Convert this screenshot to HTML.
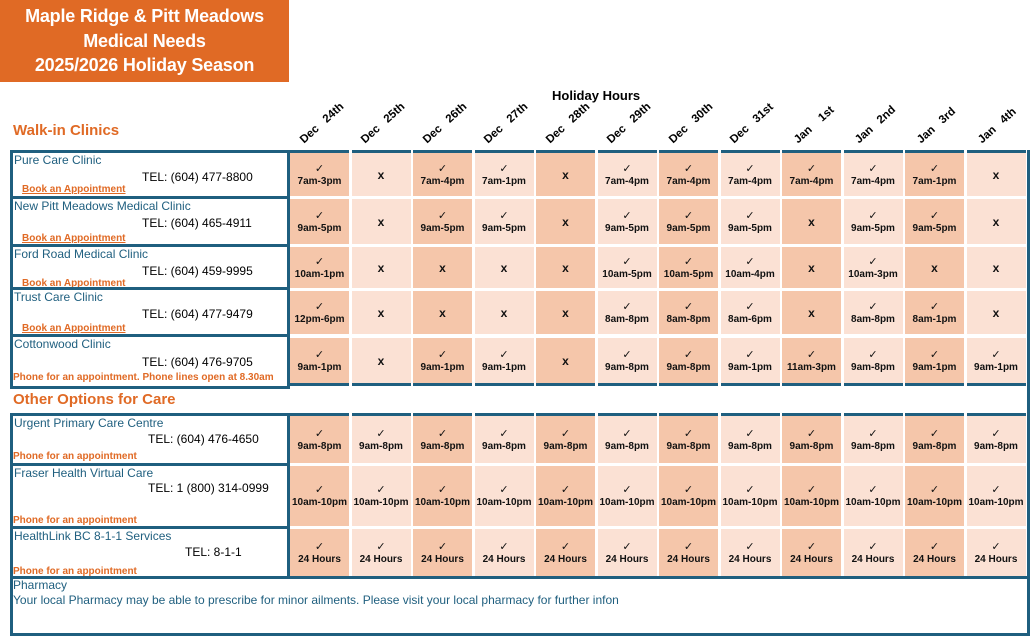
<!DOCTYPE html>
<html><head><meta charset="utf-8">
<style>
body{margin:0;width:1034px;height:638px;background:#fff;position:relative;overflow:hidden;font-family:"Liberation Sans",Arial,sans-serif;}
.abs{position:absolute;}
.title{left:0;top:0;width:289px;height:82px;background:#e06a25;color:#fff;font-weight:bold;font-size:18px;text-align:center;line-height:24.5px;padding-top:4px;box-sizing:border-box;letter-spacing:-0.2px;}
.sec{color:#e06a25;font-weight:bold;font-size:15px;}
.row{position:absolute;left:290px;display:flex;}
.row div{width:59px;margin-right:2.5px;display:flex;flex-direction:column;align-items:center;justify-content:center;font-weight:bold;font-size:10px;color:#111;}
.row div:nth-child(odd){background:#f5c6aa;}
.row div:nth-child(even){background:#fbe1d4;}
.row div b{font-weight:normal;font-size:11px;line-height:13px;}
.row div i{font-style:normal;font-size:12px;}
.strip{position:absolute;left:290px;display:flex;height:3px;}
.strip div{width:59px;margin-right:2.5px;background:#1f5f7f;}
.nm{position:absolute;left:10px;width:274px;border:3px solid #1f5f7f;border-bottom:none;}
.nm .n{position:absolute;left:1px;top:0;color:#1f5f7f;font-size:12px;}
.nm .t{position:absolute;top:17px;color:#000;font-size:12px;}
.nm .a{position:absolute;left:9px;color:#e06a25;font-weight:bold;font-size:10px;text-decoration:underline;}
.nm .p{position:absolute;left:0;color:#e06a25;font-weight:bold;font-size:10px;}
.hd{position:absolute;top:134px;font-weight:bold;font-size:11.5px;transform:rotate(-42deg);transform-origin:left bottom;white-space:pre;}
</style></head><body>
<div class="abs title">Maple Ridge &amp; Pitt Meadows<br>Medical Needs<br>2025/2026 Holiday Season</div>
<div class="abs" style="left:552px;top:88px;font-weight:bold;font-size:13px;">Holiday Hours</div>
<div class="abs sec" style="left:13px;top:122px;">Walk-in Clinics</div>
<div class="abs sec" style="left:13px;top:391px;">Other Options for Care</div>

<div class="hd" style="left:306px;">Dec   24th</div>
<div class="hd" style="left:367px;">Dec   25th</div>
<div class="hd" style="left:429px;">Dec   26th</div>
<div class="hd" style="left:490px;">Dec   27th</div>
<div class="hd" style="left:552px;">Dec   28th</div>
<div class="hd" style="left:613px;">Dec   29th</div>
<div class="hd" style="left:675px;">Dec   30th</div>
<div class="hd" style="left:736px;">Dec   31st</div>
<div class="hd" style="left:800px;">Jan    1st</div>
<div class="hd" style="left:861px;">Jan   2nd</div>
<div class="hd" style="left:923px;">Jan   3rd</div>
<div class="hd" style="left:984px;">Jan   4th</div>

<div class="abs" style="left:1027px;top:150px;width:3px;height:486px;background:#1f5f7f;"></div>

<div class="nm" style="top:150px;height:46px;"><span class="n">Pure Care Clinic</span><span class="t" style="left:129px;">TEL: (604) 477-8800</span><span class="a" style="top:31px;">Book an Appointment</span></div>
<div class="nm" style="top:196px;height:48px;"><span class="n">New Pitt Meadows Medical Clinic</span><span class="t" style="left:129px;">TEL: (604) 465-4911</span><span class="a" style="top:34px;">Book an Appointment</span></div>
<div class="nm" style="top:244px;height:43px;"><span class="n">Ford Road Medical Clinic</span><span class="t" style="left:129px;">TEL: (604) 459-9995</span><span class="a" style="top:31px;">Book an Appointment</span></div>
<div class="nm" style="top:287px;height:47px;"><span class="n">Trust Care Clinic</span><span class="t" style="left:129px;">TEL: (604) 477-9479</span><span class="a" style="top:33px;">Book an Appointment</span></div>
<div class="nm" style="top:334px;height:49px;border-bottom:3px solid #1f5f7f;"><span class="n">Cottonwood Clinic</span><span class="t" style="left:129px;top:18px;">TEL: (604) 476-9705</span><span class="p" style="top:35px;">Phone for an appointment. Phone lines open at 8.30am</span></div>

<div class="strip" style="top:150px;"><div></div><div></div><div></div><div></div><div></div><div></div><div></div><div></div><div></div><div></div><div></div><div></div></div>
<div class="row" style="top:153px;height:43px;"><div><b>✓</b>7am-3pm</div><div><i>x</i></div><div><b>✓</b>7am-4pm</div><div><b>✓</b>7am-1pm</div><div><i>x</i></div><div><b>✓</b>7am-4pm</div><div><b>✓</b>7am-4pm</div><div><b>✓</b>7am-4pm</div><div><b>✓</b>7am-4pm</div><div><b>✓</b>7am-4pm</div><div><b>✓</b>7am-1pm</div><div><i>x</i></div></div>
<div class="row" style="top:199px;height:45px;"><div><b>✓</b>9am-5pm</div><div><i>x</i></div><div><b>✓</b>9am-5pm</div><div><b>✓</b>9am-5pm</div><div><i>x</i></div><div><b>✓</b>9am-5pm</div><div><b>✓</b>9am-5pm</div><div><b>✓</b>9am-5pm</div><div><i>x</i></div><div><b>✓</b>9am-5pm</div><div><b>✓</b>9am-5pm</div><div><i>x</i></div></div>
<div class="row" style="top:247px;height:41px;"><div><b>✓</b>10am-1pm</div><div><i>x</i></div><div><i>x</i></div><div><i>x</i></div><div><i>x</i></div><div><b>✓</b>10am-5pm</div><div><b>✓</b>10am-5pm</div><div><b>✓</b>10am-4pm</div><div><i>x</i></div><div><b>✓</b>10am-3pm</div><div><i>x</i></div><div><i>x</i></div></div>
<div class="row" style="top:291px;height:43px;"><div><b>✓</b>12pm-6pm</div><div><i>x</i></div><div><i>x</i></div><div><i>x</i></div><div><i>x</i></div><div><b>✓</b>8am-8pm</div><div><b>✓</b>8am-8pm</div><div><b>✓</b>8am-6pm</div><div><i>x</i></div><div><b>✓</b>8am-8pm</div><div><b>✓</b>8am-1pm</div><div><i>x</i></div></div>
<div class="row" style="top:338px;height:45px;"><div><b>✓</b>9am-1pm</div><div><i>x</i></div><div><b>✓</b>9am-1pm</div><div><b>✓</b>9am-1pm</div><div><i>x</i></div><div><b>✓</b>9am-8pm</div><div><b>✓</b>9am-8pm</div><div><b>✓</b>9am-1pm</div><div><b>✓</b>11am-3pm</div><div><b>✓</b>9am-8pm</div><div><b>✓</b>9am-1pm</div><div><b>✓</b>9am-1pm</div></div>
<div class="strip" style="top:383px;"><div></div><div></div><div></div><div></div><div></div><div></div><div></div><div></div><div></div><div></div><div></div><div></div></div>

<div class="nm" style="top:413px;height:50px;"><span class="n">Urgent Primary Care Centre</span><span class="t" style="left:135px;top:16px;">TEL: (604) 476-4650</span><span class="p" style="top:35px;">Phone for an appointment</span></div>
<div class="nm" style="top:463px;height:63px;"><span class="n">Fraser Health Virtual Care</span><span class="t" style="left:135px;top:15px;">TEL: 1 (800) 314-0999</span><span class="p" style="top:49px;">Phone for an appointment</span></div>
<div class="nm" style="top:526px;height:50px;"><span class="n">HealthLink BC 8-1-1 Services</span><span class="t" style="left:172px;top:16px;">TEL: 8-1-1</span><span class="p" style="top:37px;">Phone for an appointment</span></div>

<div class="strip" style="top:413px;"><div></div><div></div><div></div><div></div><div></div><div></div><div></div><div></div><div></div><div></div><div></div><div></div></div>
<div class="row" style="top:416px;height:47px;"><div><b>✓</b>9am-8pm</div><div><b>✓</b>9am-8pm</div><div><b>✓</b>9am-8pm</div><div><b>✓</b>9am-8pm</div><div><b>✓</b>9am-8pm</div><div><b>✓</b>9am-8pm</div><div><b>✓</b>9am-8pm</div><div><b>✓</b>9am-8pm</div><div><b>✓</b>9am-8pm</div><div><b>✓</b>9am-8pm</div><div><b>✓</b>9am-8pm</div><div><b>✓</b>9am-8pm</div></div>
<div class="row" style="top:466px;height:60px;"><div><b>✓</b>10am-10pm</div><div><b>✓</b>10am-10pm</div><div><b>✓</b>10am-10pm</div><div><b>✓</b>10am-10pm</div><div><b>✓</b>10am-10pm</div><div><b>✓</b>10am-10pm</div><div><b>✓</b>10am-10pm</div><div><b>✓</b>10am-10pm</div><div><b>✓</b>10am-10pm</div><div><b>✓</b>10am-10pm</div><div><b>✓</b>10am-10pm</div><div><b>✓</b>10am-10pm</div></div>
<div class="row" style="top:529px;height:47px;"><div><b>✓</b>24 Hours</div><div><b>✓</b>24 Hours</div><div><b>✓</b>24 Hours</div><div><b>✓</b>24 Hours</div><div><b>✓</b>24 Hours</div><div><b>✓</b>24 Hours</div><div><b>✓</b>24 Hours</div><div><b>✓</b>24 Hours</div><div><b>✓</b>24 Hours</div><div><b>✓</b>24 Hours</div><div><b>✓</b>24 Hours</div><div><b>✓</b>24 Hours</div></div>

<div class="abs" style="left:10px;top:576px;width:1014px;height:54px;border:3px solid #1f5f7f;"></div>
<div class="abs" style="left:13px;top:578px;color:#1f5f7f;font-size:12px;line-height:15px;">Pharmacy<br>Your local Pharmacy may be able to prescribe for minor ailments. Please visit your local pharmacy for further infon</div>
</body></html>
